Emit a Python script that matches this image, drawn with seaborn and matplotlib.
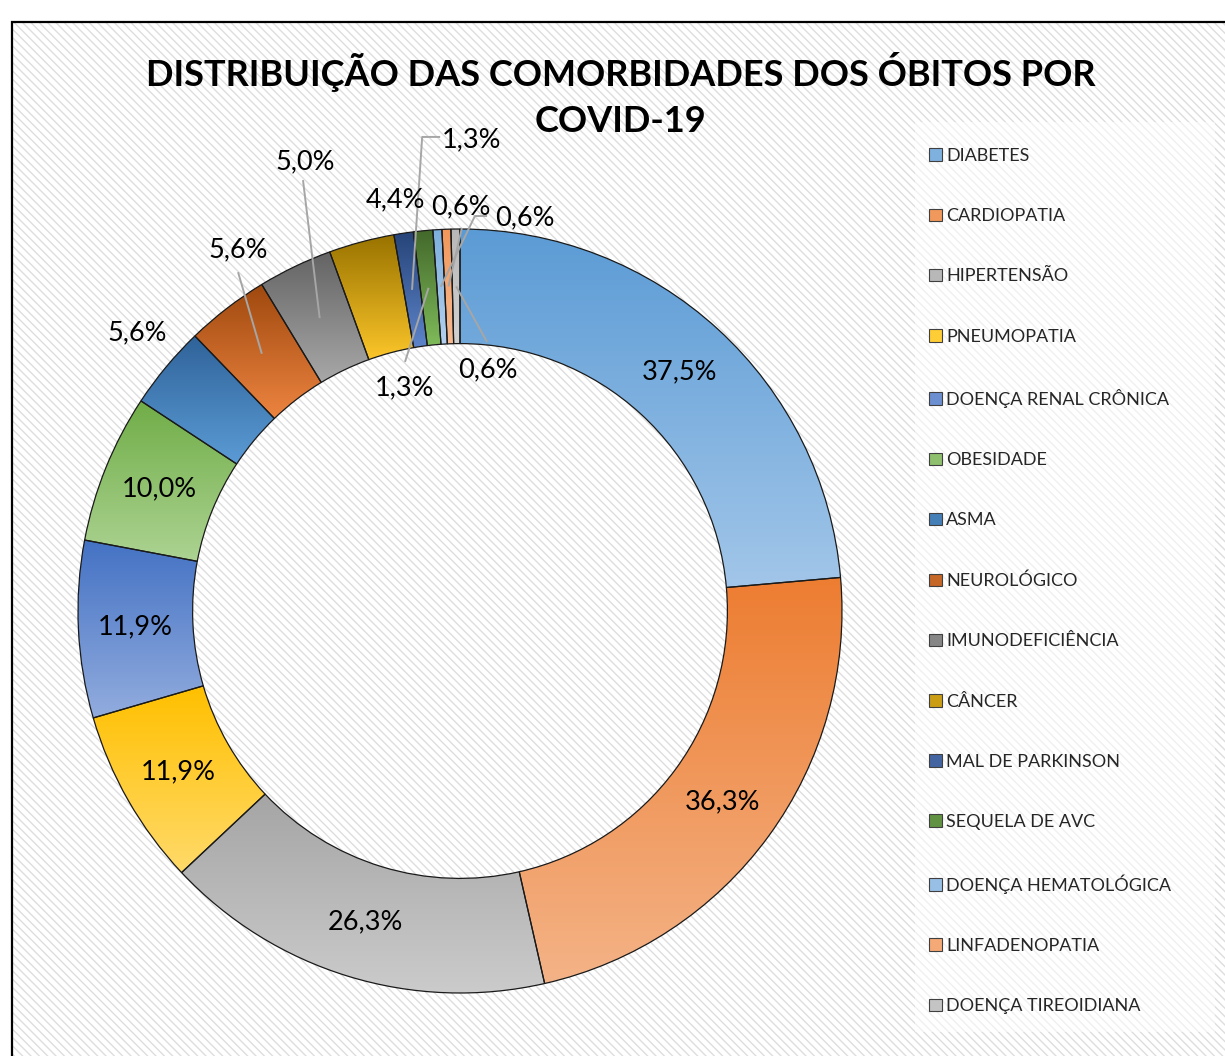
import numpy as np
import matplotlib
matplotlib.use("Agg")
import matplotlib.pyplot as plt
import seaborn as sns
from matplotlib.patches import Rectangle, Patch
from matplotlib.colors import to_rgb

# ---------------- data ----------------
categories = ["DIABETES", "CARDIOPATIA", "HIPERTENSÃO", "PNEUMOPATIA",
              "DOENÇA RENAL CRÔNICA", "OBESIDADE", "ASMA", "NEUROLÓGICO",
              "IMUNODEFICIÊNCIA", "CÂNCER", "MAL DE PARKINSON", "SEQUELA DE AVC",
              "DOENÇA HEMATOLÓGICA", "LINFADENOPATIA", "DOENÇA TIREOIDIANA"]
values = [37.5, 36.3, 26.3, 11.9, 11.9, 10.0, 5.6, 5.6, 5.0, 4.4, 1.3, 1.3, 0.6, 0.6, 0.6]
value_labels = ["37,5%", "36,3%", "26,3%", "11,9%", "11,9%", "10,0%", "5,6%", "5,6%",
                "5,0%", "4,4%", "1,3%", "1,3%", "0,6%", "0,6%", "0,6%"]
title_lines = ["DISTRIBUIÇÃO DAS COMORBIDADES DOS ÓBITOS POR", "COVID-19"]

# gradient colours (top, bottom) per slice
top_colors = ["#5b9bd5", "#ed7d31", "#a5a5a5", "#ffc000", "#4472c4", "#70ad47",
              "#2f6399", "#9e480e", "#636363", "#997300", "#264478", "#43682b",
              "#7cafdd", "#f1975a", "#b7b7b7"]
bottom_colors = ["#a2c6e9", "#f4b387", "#cbcbcb", "#ffda6a", "#92acde", "#acd392",
                 "#5b9bd5", "#ed8440", "#a8a8a8", "#fcc62a", "#5d84ca", "#7fbb5a",
                 "#b4d0ee", "#f7bb93", "#d2d2d2"]

# label placement (layout): None -> inside at mid radius; else (x, y) in axes data units
label_pos = [None, None, None, None, None, None,
             (-0.846, 0.728), (-0.581, 0.945), (-0.406, 1.175), (-0.170, 1.076),
             (0.031, 1.233), (-0.144, 0.584), (0.170, 1.029), (0.003, 1.058), (0.073, 0.631)]
# leader polylines end points (after the wedge anchor), data units
leaders = [None, None, None, None, None, None, None,
           [(-0.581, 0.887)],
           [(-0.411, 1.128)],
           None,
           [(-0.099, 1.241), (-0.052, 1.241)],
           [(-0.144, 0.652)],
           [(0.039, 1.034), (0.071, 1.034)],
           [(0.005, 1.003)],
           [(0.071, 0.704)]]

# ---------------- style ----------------
sns.set_theme(style="white")
plt.rcParams["font.family"] = ["Lato", "DejaVu Sans"]

W, H = 1225, 1056
fig = plt.figure(figsize=(W / 100, H / 100), dpi=100)
fig.patch.set_facecolor("white")

# hatched chart area background and border
bg = Rectangle((12 / W, -0.02), 1.05, (H - 22) / H + 0.02, transform=fig.transFigure,
               facecolor="white", edgecolor="#dedede", linewidth=0,
               hatch="\\\\\\\\", zorder=-10)
fig.patches.append(bg)
border = Rectangle((12 / W, -0.02), 1.05, (H - 22) / H + 0.02, transform=fig.transFigure,
                   fill=False, edgecolor="black", linewidth=1.6, zorder=-9)
fig.patches.append(border)
legbox = Rectangle((915 / W, 1 - 1032 / H), 300 / W, 910 / H, transform=fig.transFigure,
                   facecolor="white", alpha=0.55, edgecolor="none", zorder=-8)
fig.patches.append(legbox)

# donut axes: centre (460, 611), radius 382 px
cx, cy, R = 460, 611, 382
ax = fig.add_axes([(cx - R) / W, (H - cy - R) / H, 2 * R / W, 2 * R / H])
ax.set_facecolor("none")

wedges, _ = ax.pie(values, radius=1.0, startangle=90, counterclock=False,
                   wedgeprops=dict(width=0.3, edgecolor="#1a1a1a", linewidth=0.9))

for w, c0, c1 in zip(wedges, top_colors, bottom_colors):
    ext = w.get_path().get_extents()
    n = 256
    t = np.linspace(0, 1, n)[:, None]
    a, b = np.array(to_rgb(c0)), np.array(to_rgb(c1))
    grad = (a[None, :] * (1 - t) + b[None, :] * t)[:, None, :]
    im = ax.imshow(grad, extent=(ext.x0, ext.x1, ext.y0, ext.y1), origin="upper",
                   aspect="auto", interpolation="bilinear", zorder=1)
    im.set_clip_path(w)
    w.set_facecolor("none")
    w.set_zorder(2)

ax.set_xlim(-1, 1)
ax.set_ylim(-1, 1)
ax.set_aspect("equal")
ax.axis("off")

# data labels
for i, w in enumerate(wedges):
    ang = np.deg2rad((w.theta1 + w.theta2) / 2)
    mx, my = 0.85 * np.cos(ang), 0.85 * np.sin(ang)
    if label_pos[i] is None:
        lx, ly = mx, my
    else:
        lx, ly = label_pos[i]
    ax.text(lx, ly, value_labels[i], ha="center", va="center", fontsize=19.5,
            color="black", zorder=5, clip_on=False)
    if leaders[i] is not None:
        pts = [(mx, my)] + leaders[i]
        xs, ys = zip(*pts)
        ax.plot(xs, ys, color="#a6a6a6", lw=1.4, zorder=4, clip_on=False,
                solid_capstyle="butt")

# title
fig.text(621 / W, 1 - 72 / H, title_lines[0], ha="center", va="center",
         fontsize=26, fontweight="bold", color="black")
fig.text(621 / W, 1 - 122 / H, title_lines[1], ha="center", va="center",
         fontsize=26, fontweight="bold", color="black")

# legend
mid_colors = [tuple((np.array(to_rgb(a)) + np.array(to_rgb(b))) / 2)
              for a, b in zip(top_colors, bottom_colors)]
handles = [Patch(facecolor=c, edgecolor="#404040", linewidth=0.8) for c in mid_colors]
leg = fig.legend(handles, categories, loc="upper left",
                 bbox_to_anchor=(929 / W, 1 - 148 / H), frameon=False,
                 fontsize=13, handlelength=0.7, handleheight=0.7,
                 handletextpad=0.25, labelspacing=2.45, borderpad=0,
                 borderaxespad=0)

fig.savefig("out.png", dpi=100, facecolor="white")
